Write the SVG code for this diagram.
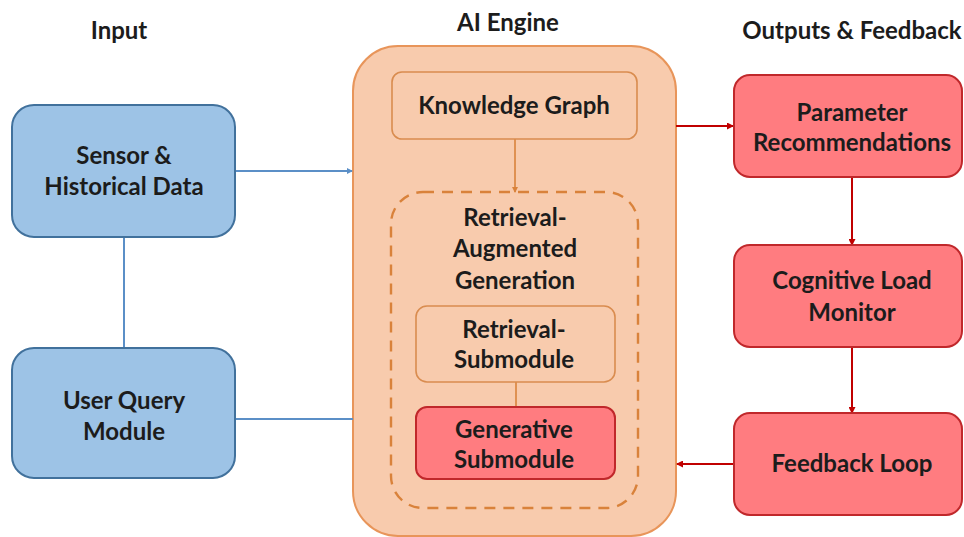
<svg xmlns="http://www.w3.org/2000/svg" width="964" height="537" viewBox="0 0 964 537">
<style>
text{font-family:Lato,"Open Sans","Liberation Sans",sans-serif;font-weight:bold;fill:#1c1c1c;text-anchor:middle;font-size:24px}
.hdr{font-size:24px}
.blue{fill:#9dc3e6;stroke:#41719c;stroke-width:2}
.outer{fill:#f8cbad;stroke:#e8955a;stroke-width:2}
.inner{fill:#f8cbad;stroke:#d98c4f;stroke-width:1.6}
.dash{fill:none;stroke:#d9823b;stroke-width:2.4;stroke-dasharray:11 8}
.red{fill:#ff7c80;stroke:#c0282b;stroke-width:2}
.cb{stroke:#5b8fc7;stroke-width:2;fill:none}
.cr{stroke:#c00000;stroke-width:2;fill:none}
.co{stroke:#d9823b;stroke-width:1.6;fill:none}
</style>
<defs>
<marker id="ab" markerWidth="6" markerHeight="6" refX="5" refY="3" orient="auto" markerUnits="userSpaceOnUse"><path d="M0,0 L6,3 L0,6 z" fill="#5b8fc7"/></marker>
<marker id="ar" markerWidth="7" markerHeight="7" refX="6" refY="3.5" orient="auto" markerUnits="userSpaceOnUse"><path d="M0,0 L7,3.5 L0,7 z" fill="#c00000"/></marker>
<marker id="ao" markerWidth="6" markerHeight="6" refX="5" refY="3" orient="auto" markerUnits="userSpaceOnUse"><path d="M0,0 L6,3 L0,6 z" fill="#d9823b"/></marker>
</defs>
<rect width="964" height="537" fill="#ffffff"/>
<text class="hdr" x="119" y="39">Input</text>
<text class="hdr" x="508" y="31">AI Engine</text>
<text class="hdr" x="852" y="39">Outputs &amp; Feedback</text>

<g id="ai-engine">
<rect class="outer" x="353" y="46" width="323" height="490" rx="45"/>
</g>
<g id="rag">
<rect class="dash" x="391" y="192" width="247" height="316" rx="32"/>
<text x="515" y="226">Retrieval-</text>
<text x="515" y="257">Augmented</text>
<text x="515" y="289">Generation</text>
</g>

<g id="connectors">
<line class="cb" x1="235" y1="171" x2="352" y2="171" marker-end="url(#ab)"/>
<line class="cb" x1="124" y1="237" x2="124" y2="348"/>
<line class="cb" x1="235" y1="419" x2="353" y2="419"/>
<line class="co" x1="515" y1="139" x2="515" y2="192" marker-end="url(#ao)"/>
<line class="co" x1="516" y1="382" x2="516" y2="407"/>
<line class="cr" x1="676" y1="126" x2="733" y2="126" marker-end="url(#ar)"/>
<line class="cr" x1="852" y1="177" x2="852" y2="245" marker-end="url(#ar)"/>
<line class="cr" x1="852" y1="347" x2="852" y2="413" marker-end="url(#ar)"/>
<line class="cr" x1="733" y1="464" x2="677" y2="464" marker-end="url(#ar)"/>
</g>

<g id="sensor">
<rect class="blue" x="12" y="105" width="223" height="132" rx="22"/>
<text x="124" y="164">Sensor &amp;</text>
<text x="124" y="195">Historical Data</text>
</g>
<g id="user-query">
<rect class="blue" x="12" y="348" width="223" height="130" rx="22"/>
<text x="124" y="409">User Query</text>
<text x="124" y="440">Module</text>
</g>
<g id="knowledge-graph">
<rect class="inner" x="392" y="72" width="245" height="67" rx="10"/>
<text x="514" y="114">Knowledge Graph</text>
</g>
<g id="retrieval-submodule">
<rect class="inner" x="416" y="306" width="199" height="76" rx="11"/>
<text x="514" y="338">Retrieval-</text>
<text x="514" y="368">Submodule</text>
</g>
<g id="generative-submodule">
<rect class="red" x="416" y="407" width="199" height="72" rx="11"/>
<text x="514" y="438">Generative</text>
<text x="514" y="468">Submodule</text>
</g>
<g id="parameter-recommendations">
<rect class="red" x="734" y="75" width="228" height="102" rx="16"/>
<text x="852" y="121">Parameter</text>
<text x="852" y="151">Recommendations</text>
</g>
<g id="cognitive-load">
<rect class="red" x="734" y="245" width="228" height="102" rx="16"/>
<text x="852" y="289">Cognitive Load</text>
<text x="852" y="321">Monitor</text>
</g>
<g id="feedback-loop">
<rect class="red" x="734" y="413" width="228" height="102" rx="16"/>
<text x="852" y="472">Feedback Loop</text>
</g>
</svg>
